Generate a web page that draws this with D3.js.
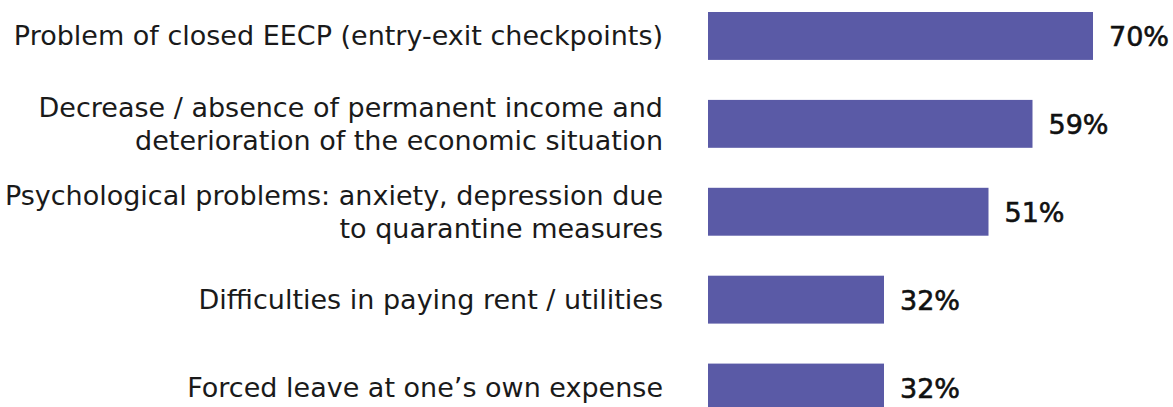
<!DOCTYPE html>
<html>
<head>
<meta charset="utf-8">
<script src="https://cdn.jsdelivr.net/npm/d3@7"></script>
<style>
  html, body { margin: 0; padding: 0; background: #fff; }
  svg { display: block; }
</style>
</head>
<body>
<svg id="chart"></svg>
<script>
const categories = [
  'Problem of closed EECP (entry-exit checkpoints)',
  'Decrease / absence of permanent income and\ndeterioration of the economic situation',
  'Psychological problems: anxiety, depression due\nto quarantine measures',
  'Difficulties in paying rent / utilities',
  'Forced leave at one\u2019s own expense',
];
const values = [70, 59, 51, 32, 32];
const valueLabels = ['70%', '59%', '51%', '32%', '32%'];

const width = 1173;
const height = 407;
const barLeft = 708;
const labelRight = 663;
const lineHeight = 32.7;
const fontFamily = '"DejaVu Sans", "Noto Sans", sans-serif';

const svg = d3.select('#chart')
  .attr('width', width)
  .attr('height', height)
  .attr('viewBox', `0 0 ${width} ${height}`);

const y = d3.scaleBand()
  .domain(categories)
  .range([12, 411.5])
  .paddingInner(0.455)
  .paddingOuter(0);

const x = d3.scaleLinear()
  .domain([0, 100])
  .range([barLeft, barLeft + 550]);

const rows = categories.map((cat, i) => ({ cat, value: values[i], label: valueLabels[i] }));

// bars
svg.append('g')
  .selectAll('rect')
  .data(rows)
  .join('rect')
  .attr('x', x(0))
  .attr('y', (d) => y(d.cat))
  .attr('width', (d) => x(d.value) - x(0))
  .attr('height', y.bandwidth())
  .attr('fill', '#5a5aa6');

// category labels (wrapped on \n)
const catText = svg.append('g')
  .selectAll('text')
  .data(rows)
  .join('text')
  .attr('text-anchor', 'end')
  .attr('font-family', fontFamily)
  .attr('font-size', 27)
  .attr('fill', '#1a1a1a');

catText.each(function (d) {
  const lines = d.cat.split('\n');
  const mid = y(d.cat) + y.bandwidth() / 2;
  const first = mid - ((lines.length - 1) * lineHeight) / 2 + 9.5;
  d3.select(this)
    .selectAll('tspan')
    .data(lines)
    .join('tspan')
    .attr('x', labelRight)
    .attr('y', (_, j) => first + j * lineHeight)
    .text((t) => t);
});

// value labels
svg.append('g')
  .selectAll('text')
  .data(rows)
  .join('text')
  .attr('x', (d) => x(d.value) + 16)
  .attr('y', (d) => y(d.cat) + y.bandwidth() / 2 + 10.5)
  .attr('font-family', fontFamily)
  .attr('font-size', 27)
  .attr('fill', '#111')
  .attr('stroke', '#111')
  .attr('stroke-width', 0.6)
  .text((d) => d.label);
</script>
</body>
</html>
